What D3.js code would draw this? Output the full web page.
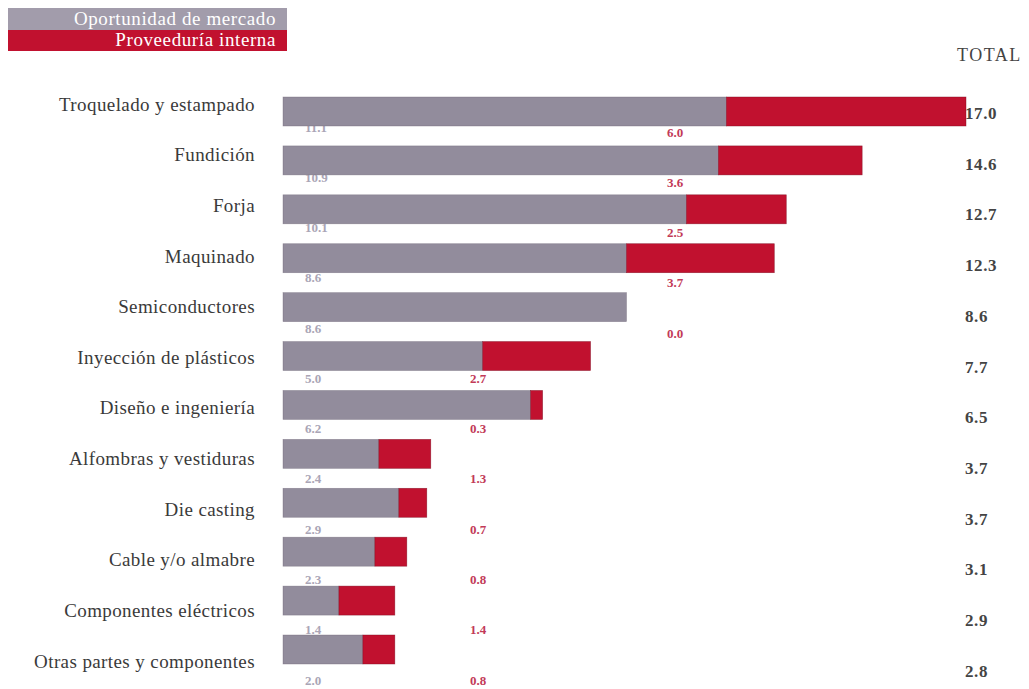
<!DOCTYPE html>
<meta charset="utf-8">
<style>
  body { margin: 0; background: #fff; }
  svg { display: block; font-family: "Liberation Serif", "DejaVu Serif", serif; }
  .cat { font-size: 19px; fill: #3a3a3a; letter-spacing: 0.4px; }
  .total { font-size: 17px; fill: #444; font-weight: bold; letter-spacing: 0.6px; }
  .gval { font-size: 13px; fill: #aaa5b6; font-weight: bold; }
  .rval { font-size: 13px; fill: #c23a58; font-weight: bold; }
</style>
<script src="https://d3js.org/d3.v7.min.js"></script>
<body>
<svg id="chart" width="1029" height="689"></svg>
<script>
  var categories = [
    "Troquelado y estampado", "Fundición", "Forja", "Maquinado", "Semiconductores",
    "Inyección de plásticos", "Diseño e ingeniería", "Alfombras y vestiduras",
    "Die casting", "Cable y/o almabre", "Componentes eléctricos", "Otras partes y componentes"
  ];
  var oportunidad = [11.1, 10.9, 10.1, 8.6, 8.6, 5.0, 6.2, 2.4, 2.9, 2.3, 1.4, 2.0];
  var proveeduria = [6.0, 3.6, 2.5, 3.7, 0.0, 2.7, 0.3, 1.3, 0.7, 0.8, 1.4, 0.8];
  var totals = [17.0, 14.6, 12.7, 12.3, 8.6, 7.7, 6.5, 3.7, 3.7, 3.1, 2.9, 2.8];
  var seriesNames = ["Oportunidad de mercado", "Proveeduría interna"];

  var gray = "#928c9c", red = "#c1112f";

  var svg = d3.select("#chart");

  var rows = categories.map(function(c, i) {
    return { cat: c, opp: oportunidad[i], prov: proveeduria[i], total: totals[i], i: i };
  });

  var x = d3.scaleLinear().domain([0, 17]).range([283, 962]);
  var yBar = d3.scalePoint().domain(categories).range([97, 635]);
  var yCat = d3.scalePoint().domain(categories).range([104, 661]);
  var yVal = d3.scalePoint().domain(categories).range([127, 680]);
  var yTot = d3.scalePoint().domain(categories).range([113, 671]);
  var barH = 29;

  // legend
  var leg = svg.append("g");
  leg.selectAll("rect").data(seriesNames).join("rect")
    .attr("x", 8).attr("y", function(d, i) { return i === 0 ? 8 : 30; })
    .attr("width", 279).attr("height", function(d, i) { return i === 0 ? 22 : 21; })
    .attr("fill", function(d, i) { return i === 0 ? "#a29cab" : red; });
  leg.selectAll("text").data(seriesNames).join("text")
    .attr("x", 276).attr("y", function(d, i) { return i === 0 ? 25 : 46; })
    .attr("text-anchor", "end").attr("fill", "#fff")
    .style("font-size", "19px").style("letter-spacing", "0.6px")
    .text(function(d) { return d; });

  svg.append("text").attr("x", 957).attr("y", 61)
    .style("font-size", "18px").style("letter-spacing", "1.5px")
    .attr("fill", "#444").text("TOTAL");

  // category labels
  svg.selectAll(".cat").data(rows).join("text").attr("class", "cat")
    .attr("x", 255).attr("y", function(d) { return yCat(d.cat); })
    .attr("dy", "0.35em").attr("text-anchor", "end")
    .text(function(d) { return d.cat; });

  // value labels under the bars (drawn first, bars overlap them)
  svg.selectAll(".gval").data(rows).join("text").attr("class", "gval")
    .attr("x", 305).attr("y", function(d) { return yVal(d.cat); })
    .attr("dy", "0.35em")
    .text(function(d) { return d3.format(".1f")(d.opp); });
  svg.selectAll(".rval").data(rows).join("text").attr("class", "rval")
    .attr("x", function(d) { return d.i < 5 ? 675 : 478; })
    .attr("y", function(d) { return yVal(d.cat) + (d.i < 5 ? 5 : 0); })
    .attr("dy", "0.35em").attr("text-anchor", "middle")
    .text(function(d) { return d3.format(".1f")(d.prov); });

  // bars
  var bars = svg.append("g");
  bars.selectAll(".g").data(rows).join("rect").attr("class", "g")
    .attr("x", x(0)).attr("y", function(d) { return yBar(d.cat); })
    .attr("width", function(d) { return x(d.opp) - x(0); })
    .attr("height", barH).attr("fill", gray)
    .attr("stroke", "#6f6878").attr("stroke-width", 0.6).attr("stroke-opacity", 0.6);
  bars.selectAll(".r").data(rows.filter(function(d) { return d.prov > 0; })).join("rect").attr("class", "r")
    .attr("x", function(d) { return x(d.opp); }).attr("y", function(d) { return yBar(d.cat); })
    .attr("width", function(d) { return x(d.opp + d.prov) - x(d.opp); })
    .attr("height", barH).attr("fill", red)
    .attr("stroke", "#7d0a1f").attr("stroke-width", 0.6).attr("stroke-opacity", 0.7);

  // totals
  svg.selectAll(".total").data(rows).join("text").attr("class", "total")
    .attr("x", 965).attr("y", function(d) { return yTot(d.cat); })
    .attr("dy", "0.35em")
    .text(function(d) { return d3.format(".1f")(d.total); });
</script>
</body>
